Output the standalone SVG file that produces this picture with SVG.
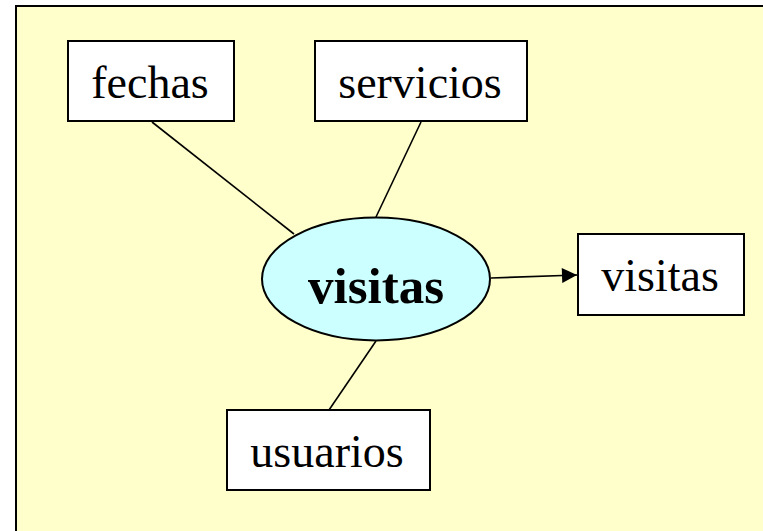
<svg xmlns="http://www.w3.org/2000/svg" width="763" height="531" viewBox="0 0 763 531">
<style>
.box{fill:#ffffff;stroke:#000;stroke-width:2}
.lbl{fill:#000;text-anchor:middle}
.edge{stroke:#000;stroke-width:1.6;fill:none}
</style>
<defs>
<marker id="arr" viewBox="0 0 10 10" refX="10" refY="5" markerWidth="18" markerHeight="15" markerUnits="userSpaceOnUse" orient="auto">
<path d="M0,0 L10,5 L0,10 Z" fill="#000"/>
</marker>
</defs>
<rect x="0" y="0" width="763" height="531" fill="#ffffff"/>
<rect x="16" y="6" width="760" height="540" fill="#ffffcc" stroke="#000" stroke-width="2"/>
<g id="connectors">
<line class="edge" x1="152" y1="122" x2="294" y2="234"/>
<line class="edge" x1="421" y1="122" x2="376" y2="217"/>
<line class="edge" x1="376" y1="341" x2="329" y2="410"/>
<line class="edge" x1="491" y1="278" x2="577" y2="275" marker-end="url(#arr)"/>
</g>
<g id="labels-font" font-family="'Liberation Serif', 'Times New Roman', serif" font-size="46">
<g id="fechas">
<rect class="box" x="68" y="41" width="166" height="80"/>
<text class="lbl" x="150" y="98">fechas</text>
</g>
<g id="servicios">
<rect class="box" x="315" y="41" width="212" height="80"/>
<text class="lbl" x="420" y="98">servicios</text>
</g>
<g id="visitas-entity">
<ellipse cx="376" cy="279" rx="114" ry="61.5" fill="#ccffff" stroke="#000" stroke-width="2"/>
<text class="lbl" x="376" y="303" font-weight="bold" font-size="51">visitas</text>
</g>
<g id="visitas-table">
<rect class="box" x="578" y="234" width="166" height="81"/>
<text class="lbl" x="660" y="291">visitas</text>
</g>
<g id="usuarios">
<rect class="box" x="227" y="410" width="203" height="80"/>
<text class="lbl" x="327" y="467">usuarios</text>
</g>
</g>
</svg>
